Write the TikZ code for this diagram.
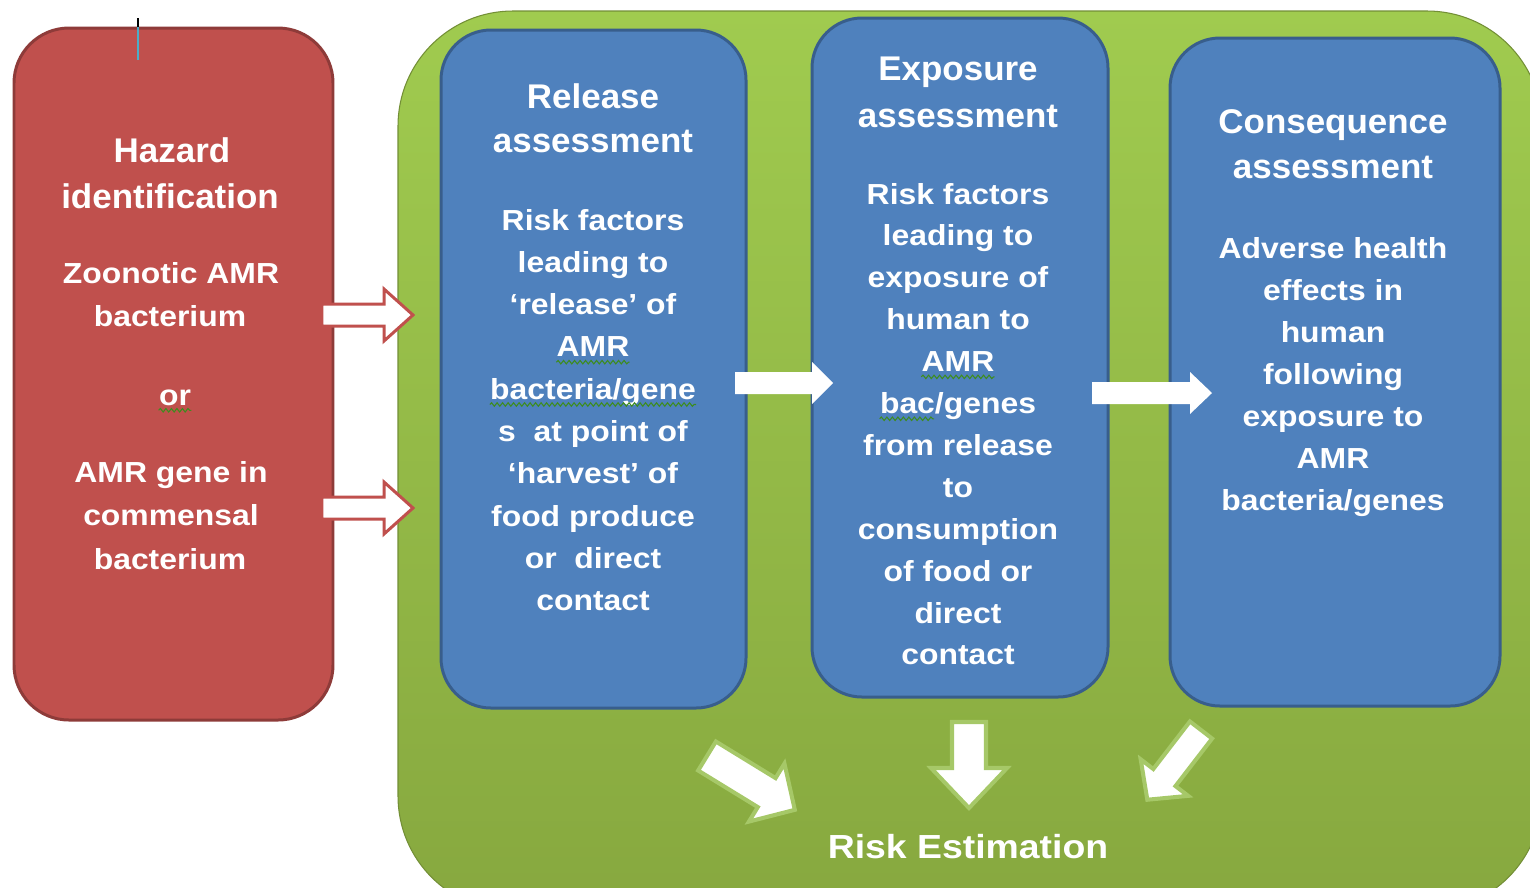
\documentclass[tikz,border=0pt]{standalone}
\usepackage{fontspec}
\setmainfont{Liberation Sans}
\newfontfamily\bodyf{Liberation Sans}[FakeStretch=1.1]
\newfontfamily\titlef{Liberation Sans}[FakeStretch=1.02]
\newfontfamily\riskf{Liberation Sans}[FakeStretch=1.12]
\usetikzlibrary{fit,decorations.pathmorphing}
\definecolor{redfill}{HTML}{C0504D}
\definecolor{redline}{HTML}{8E3B39}
\definecolor{bluefill}{HTML}{4F81BD}
\definecolor{blueline}{HTML}{385E8C}
\definecolor{greentop}{HTML}{A0CB4F}
\definecolor{greenbot}{HTML}{87A83F}
\definecolor{glow}{HTML}{A6C868}
\definecolor{spell}{HTML}{3D8C1E}
\definecolor{markteal}{HTML}{4BACC6}
\begin{document}
\begin{tikzpicture}[x=0.02cm, y=-0.02cm,
  redbox/.style={fill=redfill, draw=redline, line width=1.7pt, rounded corners=1.1cm, inner sep=0},
  bluebox/.style={fill=bluefill, draw=blueline, line width=1.7pt, rounded corners=1.0cm, inner sep=0},
  greenbox/.style={top color=greentop, bottom color=greenbot, draw=greenbot!85!black, line width=0.6pt, rounded corners=2.3cm, inner sep=0},
  title/.style={font=\titlef\bfseries\fontsize{19.5}{24}\selectfont, text=white, anchor=base, inner sep=0},
  body/.style={font=\bodyf\bfseries\fontsize{16.5}{20}\selectfont, text=white, anchor=base, inner sep=0},
  risk/.style={font=\riskf\bfseries\fontsize{19}{24}\selectfont, text=white, anchor=base, inner sep=0},
  redarrow/.style={fill=white, draw=redfill, line width=1.7pt},
  whitearrow/.style={fill=white},
  glowarrow/.style={fill=white, draw=glow, line width=2.3pt},
  spellmark/.style={draw=spell, line width=0.6pt, decorate, decoration={snake, segment length=0.11cm, amplitude=0.035cm}},
  pics/barrow/.style args={#1/#2/#3/#4/#5}{code={\path[#5] (0,-#2) -- ({#1-#4},-#2) -- ({#1-#4},-#3) -- (#1,0) -- ({#1-#4},#3) -- ({#1-#4},#2) -- (0,#2) -- cycle;}}
]
\useasboundingbox (0,0) rectangle (1530,887);
\fill[white] (0,0) rectangle (1530,887);
\clip (0,0) rectangle (1530,887);

% large green panel
\node[greenbox, fit={(398,11) (1542,911)}] (panel) {};

% hazard box
\node[redbox, fit={(14,28) (333,720)}] (haz) {};
\draw[markteal, line width=1.2pt] (138,27) -- (138,60);
\draw[black, line width=1.2pt] (138,18) -- (138,27);

% blue boxes
\node[bluebox, fit={(441,30) (746,708)}] (rel) {};
\node[bluebox, fit={(812,18) (1108,697)}] (exp) {};
\node[bluebox, fit={(1170,38) (1500,706)}] (con) {};

% red outlined arrows
\pic at (322,315) {barrow={91/11/26/29/redarrow}};
\pic at (322,508) {barrow={91/11/26/29/redarrow}};

% white arrows between blue boxes
\pic at (735,383) {barrow={98/11/21/21/whitearrow}};
\pic at (1092,393) {barrow={120/11/21/22/whitearrow}};

% arrows to risk estimation
\pic[rotate=-31.5] at (707,756) {barrow={103/17/34/33/glowarrow}};
\pic[rotate=-90] at (969,722) {barrow={86/17/38/40/glowarrow}};
\pic[rotate=-127.6] at (1201,730) {barrow={88/14/30/28/glowarrow}};

% hazard text
\node[title] (hz1) at (172,162) {Hazard};
\node[title] (hz2) at (170,208) {identification};
\node[body] (hz3) at (171,283) {Zoonotic AMR};
\node[body] (hz4) at (170,326) {bacterium};
\node[body] (hz5) at (175,405) {or};
\node[body] (hz6) at (171,482) {AMR gene in};
\node[body] (hz7) at (171,525) {commensal};
\node[body] (hz8) at (170,569) {bacterium};

% release text
\node[title] (relt1) at (593,108) {Release};
\node[title] (relt2) at (593,152) {assessment};
\foreach \t [count=\i from 0] in {{Risk factors},{leading to},{‘release’ of},{AMR},{bacteria/gene},{s\ \ at point of},{‘harvest’ of},{food produce},{or\ \ direct},{contact}}
  \node[body] (rel\i) at (593,{230+42.3*\i}) {\t};

% exposure text
\node[title] (expt1) at (958,80) {Exposure};
\node[title] (expt2) at (958,127) {assessment};
\foreach \t [count=\i from 0] in {{Risk factors},{leading to},{exposure of},{human to},{AMR},{bac/genes},{from release},{to},{consumption},{of food or},{direct},{contact}}
  \node[body] (exp\i) at (958,{204+41.9*\i}) {\t};

% consequence text
\node[title] (cont1) at (1333,133) {Consequence};
\node[title] (cont2) at (1333,178) {assessment};
\foreach \t [count=\i from 0] in {{Adverse health},{effects in},{human},{following},{exposure to},{AMR},{bacteria/genes}}
  \node[body] (con\i) at (1333,{258+42*\i}) {\t};

% risk estimation
\node[risk] (riskest) at (968,858) {Risk Estimation};

% spell-check underlines
\draw[spellmark] ([yshift=-3pt]hz5.base west) -- ([yshift=-3pt]hz5.base east);
\draw[spellmark] ([yshift=-3pt]rel3.base west) -- ([yshift=-3pt]rel3.base east);
\draw[spellmark] ([yshift=-3pt]rel4.base west) -- ([yshift=-3pt]rel4.base east);
\draw[spellmark] ([yshift=-3pt]exp4.base west) -- ([yshift=-3pt]exp4.base east);
\draw[spellmark] ([yshift=-3pt]exp5.base west) -- ([yshift=-3pt,xshift=31pt]exp5.base west);
\end{tikzpicture}
\end{document}
